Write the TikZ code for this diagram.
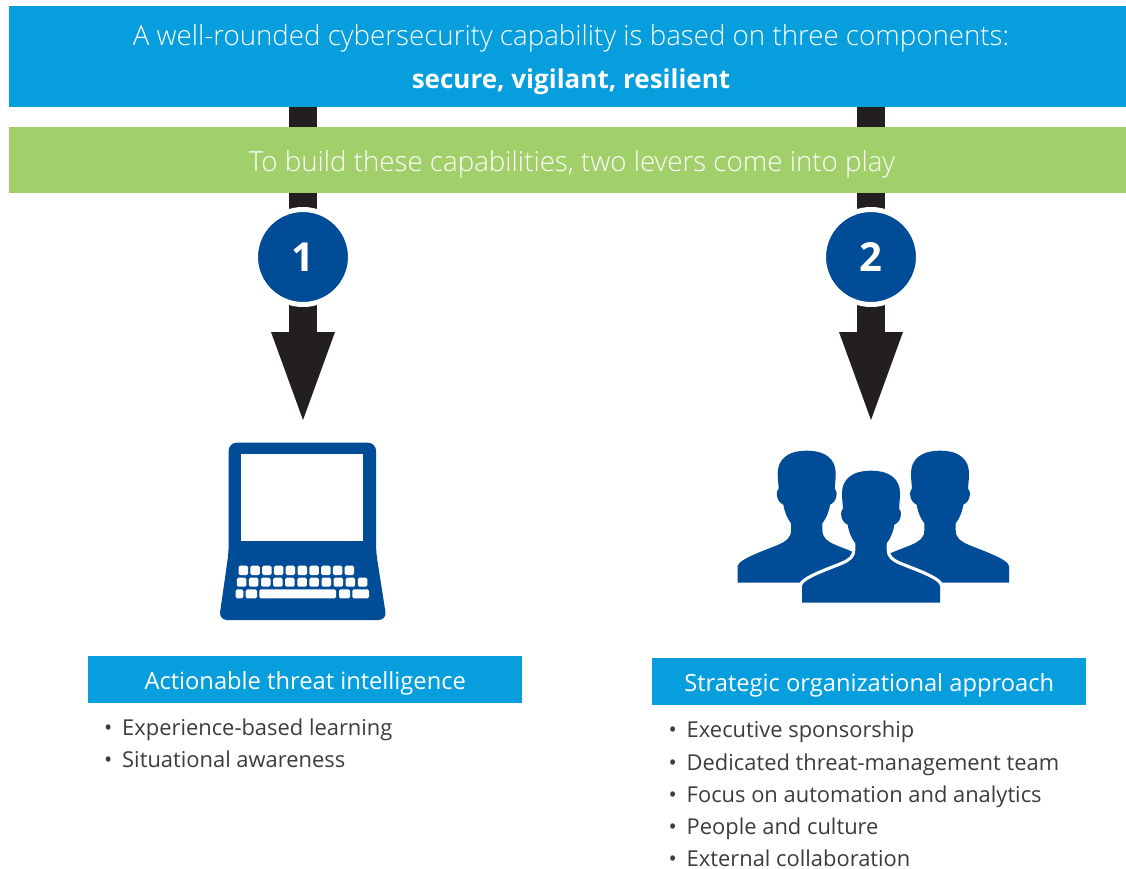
\documentclass[tikz,border=0pt]{standalone}
\usepackage{fontspec}
\setmainfont{Open Sans}
\newfontfamily\lightfont{Open Sans Light}
\usepackage{tikz}
\usetikzlibrary{positioning, arrows.meta}
\definecolor{barblue}{HTML}{069EDD}
\definecolor{bargreen}{HTML}{A1CF69}
\definecolor{iconblue}{HTML}{004C97}
\definecolor{shaftblack}{HTML}{231F20}
\definecolor{bodygrey}{HTML}{3C3C3C}
\tikzset{
	bar/.style={fill=#1, text=white, minimum width=1117pt, inner sep=0pt, anchor=north west},
	lever/.style={shaftblack, line width=28pt, -{Triangle[length=88pt, width=64pt, line width=0pt]}},
	badge/.style={circle, fill=iconblue, draw=white, line width=5pt, minimum size=95pt, inner sep=0pt,
		text=white, font=\fontsize{40}{40}\selectfont\bfseries},
	heading/.style={fill=barblue, text=white, minimum width=434pt, minimum height=47pt, inner sep=0pt,
		text height=20.4pt, text depth=0pt, anchor=north west, font=\fontsize{23.7}{23.7}\selectfont},
	leveritem/.style={text=bodygrey, inner sep=0pt, outer sep=0pt, anchor=north west, text height=30pt, text depth=2.25pt,
		font=\fontsize{21.9}{21.9}\selectfont},
	barline/.style={text=white, font=\lightfont\fontsize{27.7}{27.7}\selectfont},
	person/.pic={
		\path[preaction={draw=white, line width=#1}, fill=iconblue]
			(0,0) .. controls (60,0) and (87,28) .. (87,68)
			.. controls (87,85) and (85,100) .. (84,113)
			.. controls (93,120) and (93,152) .. (70,162)
			.. controls (66,185) and (60,200) .. (47,218)
			-- (47,238)
			.. controls (47,262) and (62,272) .. (85,282)
			.. controls (120,297) and (205,325) .. (207,346)
			-- (207,396) -- (-207,396) -- (-207,346)
			.. controls (-205,325) and (-120,297) .. (-85,282)
			.. controls (-62,272) and (-47,262) .. (-47,238)
			-- (-47,218)
			.. controls (-60,200) and (-66,185) .. (-70,162)
			.. controls (-93,152) and (-93,120) .. (-84,113)
			.. controls (-85,100) and (-87,85) .. (-87,68)
			.. controls (-87,28) and (-60,0) .. (0,0) -- cycle;
	}
}

\begin{document}
\begin{tikzpicture}[x=1pt, y=-1pt]
	\useasboundingbox (0,0) rectangle (1126,869);

	\node[bar=barblue, minimum height=101pt] (capability) at (9,6) {};
	\node[barline] (capline) at (571,38) {A well-rounded cybersecurity capability is based on three components:};
	\node[text=white, font=\fontsize{26}{26}\selectfont\bfseries] (capwords) at (571,82) {secure, vigilant, resilient};

	\coordinate (tipa) at (303,420);
	\coordinate (tipb) at (871,420);
	\draw[lever] (capability.south -| tipa) -- (tipa);
	\draw[lever] (capability.south -| tipb) -- (tipb);

	\node[bar=bargreen, minimum height=66pt] (levers) at (9,127) {};
	\node[barline] (leverline) at (572,164) {To build these capabilities, two levers come into play};

	\node[badge] (one) at (303,257) {1};
	\node[badge] (two) at (871,257) {2};

	% laptop
	\fill[iconblue, rounded corners=8pt] (228.7,442.7) -- (376,442.7) -- (376,551.7) -- (386.7,620) -- (219,620) -- (228.7,551.7) -- cycle;
	\fill[white] (241,453.5) rectangle (363,540.5);
	\foreach \i in {0,...,9}
		\fill[white, rounded corners=1.5pt] (238.5+11.8*\i,565.7) rectangle ++(9.5,9.3);
	\foreach \i in {0,...,10}
		\fill[white, rounded corners=1.5pt] (236.8+12.1*\i,577.7) rectangle ++(9.5,9);
	\foreach \a/\b in {235.7/243.3, 245.7/257, 259.3/336, 339/350, 352.3/369}
		\fill[white, rounded corners=1.5pt] (\a,589.3) rectangle (\b,598.3);

	% people
	\pic[scale=1/3] at (806.7,450.7) {person=0pt};
	\pic[scale=1/3] at (940,450.7) {person=0pt};
	\pic[scale=1/3] at (871,470.7) {person=6.5pt};

	\node[heading] (threat) at (88,656) {Actionable threat intelligence};
	\node[heading] (org) at (652,658) {Strategic organizational approach};

	\node[leveritem] (ta) at (104,705) {•\hspace{10pt}Experience-based learning};
	\node[leveritem, below=0pt of ta.south west, anchor=north west] (tb) {•\hspace{10pt}Situational awareness};

	\node[leveritem] (oa) at (668.5,707.8) {•\hspace{10pt}Executive sponsorship};
	\node[leveritem, below=0pt of oa.south west, anchor=north west] (ob) {•\hspace{10pt}Dedicated threat-management team};
	\node[leveritem, below=0pt of ob.south west, anchor=north west] (oc) {•\hspace{10pt}Focus on automation and analytics};
	\node[leveritem, below=0pt of oc.south west, anchor=north west] (od) {•\hspace{10pt}People and culture};
	\node[leveritem, below=0pt of od.south west, anchor=north west] (oe) {•\hspace{10pt}External collaboration};
\end{tikzpicture}
\end{document}
